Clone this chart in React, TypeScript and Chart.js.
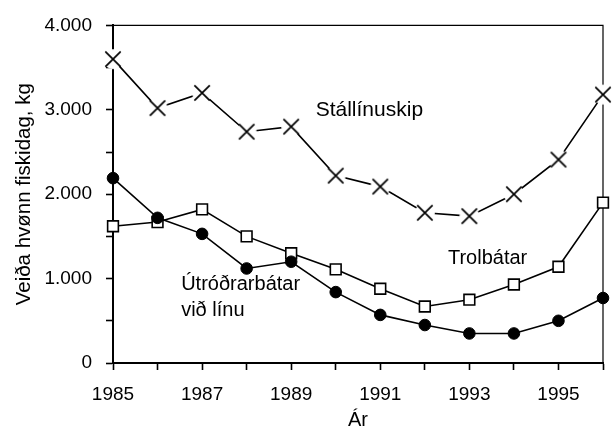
import React, { useEffect, useRef } from 'react';
import { Chart, registerables } from 'chart.js';

Chart.register(...registerables);

const years = [1985, 1986, 1987, 1988, 1989, 1990, 1991, 1992, 1993, 1994, 1995, 1996];
const stallinuskip = [3600, 3020, 3200, 2740, 2800, 2220, 2090, 1780, 1740, 2000, 2410, 3180];
const trolbatar = [1620, 1670, 1820, 1500, 1300, 1110, 880, 670, 750, 930, 1140, 1900];
const utrodrarbatar = [2190, 1720, 1530, 1120, 1200, 840, 570, 450, 350, 350, 500, 770];

const yMin = 0;
const yMax = 4000;
const yStep = 500;
const yLabelStep = 1000;
const xLabelStep = 2;

const xTitle = 'Ár';
const yTitle = 'Veiða hvønn fiskidag, kg';

const seriesNames = ['Útróðrarbátar við línu', 'Trolbátar', 'Stállínuskip'];

const FONT = '"Liberation Sans", Arial, sans-serif';
const FS = 19;

function fmt(v: number): string {
  return String(v).replace(/\B(?=(\d{3})+(?!\d))/g, '.');
}

function makeCross(): HTMLCanvasElement {
  const c = document.createElement('canvas');
  c.width = 24;
  c.height = 24;
  const g = c.getContext('2d')!;
  g.fillStyle = '#fff';
  g.beginPath();
  g.arc(12, 12, 10, 0, Math.PI * 2);
  g.fill();
  g.strokeStyle = '#000';
  g.lineWidth = 1.7;
  g.beginPath();
  g.moveTo(4.3, 4.3);
  g.lineTo(19.7, 19.7);
  g.moveTo(19.7, 4.3);
  g.lineTo(4.3, 19.7);
  g.stroke();
  return c;
}

export default function App() {
  const ref = useRef<HTMLCanvasElement | null>(null);

  useEffect(() => {
    if (!ref.current) return;
    const cross = makeCross();

    const labels = [
      { lines: ['Stállínuskip'], x: 1989.55, y: 2930, size: 21, dy: 0 },
      { lines: ['Trolbátar'], x: 1992.52, y: 1175, size: 20, dy: 0 },
      { lines: ['Útróðrarbátar', 'við línu'], x: 1986.53, y: 868, size: 20, dy: 26 },
    ];

    const framePlugin = {
      id: 'frame',
      beforeDatasetsDraw(chart: any) {
        const { ctx, chartArea: a } = chart;
        ctx.save();
        ctx.strokeStyle = '#000';
        ctx.lineWidth = 1.2;
        ctx.beginPath();
        ctx.moveTo(a.left, a.top);
        ctx.lineTo(a.right, a.top);
        ctx.lineTo(a.right, a.bottom);
        ctx.stroke();
        ctx.restore();
      },
      afterDraw(chart: any) {
        const { ctx, scales } = chart;
        ctx.save();
        ctx.fillStyle = '#000';
        ctx.textAlign = 'left';
        ctx.textBaseline = 'alphabetic';
        for (const l of labels) {
          ctx.font = `${l.size}px ${FONT}`;
          const px = scales.x.getPixelForValue(l.x);
          const py = scales.y.getPixelForValue(l.y);
          l.lines.forEach((t, i) => ctx.fillText(t, px, py + i * l.dy));
        }
        ctx.restore();
      },
    };

    const chart = new Chart(ref.current, {
      type: 'line',
      data: {
        datasets: [
          {
            label: seriesNames[0],
            data: years.map((x, i) => ({ x, y: utrodrarbatar[i] })),
            borderColor: '#000',
            borderWidth: 1.6,
            pointStyle: 'circle',
            pointRadius: 5.8,
            pointBackgroundColor: '#000',
            pointBorderColor: '#000',
            pointBorderWidth: 1,
            tension: 0,
            order: 1,
          },
          {
            label: seriesNames[1],
            data: years.map((x, i) => ({ x, y: trolbatar[i] })),
            borderColor: '#000',
            borderWidth: 1.6,
            pointStyle: 'rect',
            pointRadius: 7.6,
            pointBackgroundColor: '#fff',
            pointBorderColor: '#000',
            pointBorderWidth: 1.6,
            tension: 0,
            order: 2,
          },
          {
            label: seriesNames[2],
            data: years.map((x, i) => ({ x, y: stallinuskip[i] })),
            borderColor: '#000',
            borderWidth: 1.6,
            pointStyle: cross as any,
            pointRadius: 10,
            tension: 0,
            order: 3,
          },
        ],
      },
      options: {
        responsive: false,
        animation: false,
        devicePixelRatio: 1,
        clip: false as any,
        layout: { padding: { top: 22, right: 3, left: 0, bottom: 0 } },
        plugins: {
          legend: { display: false },
          tooltip: { enabled: false },
        },
        scales: {
          x: {
            type: 'linear',
            min: years[0],
            max: years[years.length - 1],
            afterFit: (s: any) => {
              s.height = 67;
            },
            ticks: {
              stepSize: 1,
              autoSkip: false,
              maxRotation: 0,
              padding: 13,
              color: '#000',
              font: { family: FONT, size: FS },
              callback: (v: any) => ((Number(v) - years[0]) % xLabelStep === 0 ? String(v) : ''),
            },
            grid: {
              drawOnChartArea: false,
              drawTicks: true,
              tickLength: 7,
              tickColor: '#000',
              tickWidth: 1.6,
            },
            border: { display: true, color: '#000', width: 2 },
            title: {
              display: true,
              text: xTitle,
              color: '#000',
              font: { family: FONT, size: 20, lineHeight: 1 },
              padding: { top: 0, bottom: 0 },
            },
          },
          y: {
            type: 'linear',
            min: yMin,
            max: yMax,
            afterFit: (s: any) => {
              s.width = 113;
            },
            ticks: {
              stepSize: yStep,
              padding: 14,
              color: '#000',
              font: { family: FONT, size: FS },
              callback: (v: any) => (Number(v) % yLabelStep === 0 ? fmt(Number(v)) : ''),
            },
            grid: {
              drawOnChartArea: false,
              drawTicks: true,
              tickLength: 7,
              tickColor: '#000',
              tickWidth: 1.6,
            },
            border: { display: true, color: '#000', width: 2 },
            title: {
              display: true,
              text: yTitle,
              color: '#000',
              font: { family: FONT, size: 20.5 },
              padding: { top: 12, bottom: 0 },
            },
          },
        },
      },
      plugins: [framePlugin],
    });

    return () => chart.destroy();
  }, []);

  return (
    <div style={{ position: 'absolute', left: 0, top: 0, width: 616, height: 430 }}>
      <canvas ref={ref} width={616} height={430} style={{ display: 'block', width: 616, height: 430 }} />
    </div>
  );
}
